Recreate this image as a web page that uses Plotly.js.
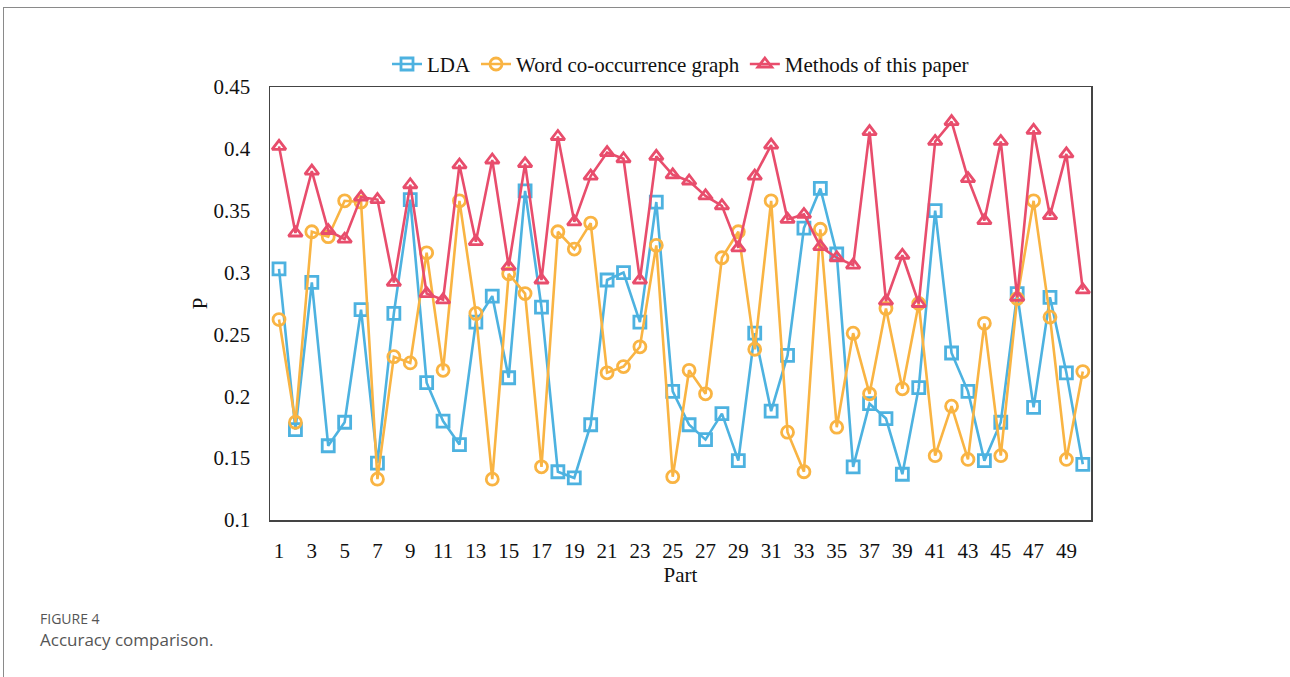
<!DOCTYPE html>
<html>
<head>
<meta charset="utf-8">
<script src="https://cdn.plot.ly/plotly-3.0.1.min.js"></script>
<style>
  html, body { margin: 0; padding: 0; background: #fff; }
  #chart { width: 1290px; height: 677px; }
  #frame { position: absolute; left: 3px; top: 7px; width: 1300px; height: 700px; border: 1.5px solid #8a8a8a; pointer-events: none; }
</style>
</head>
<body>
<div id="frame"></div>
<div id="chart"></div>
<script>
const parts = Array.from({length: 50}, (_, i) => i + 1);

const ldaValues = [0.303,0.173,0.292,0.160,0.179,0.270,0.146,0.267,0.359,0.211,
                   0.180,0.161,0.260,0.281,0.215,0.366,0.272,0.139,0.134,0.177,
                   0.294,0.300,0.260,0.357,0.204,0.177,0.165,0.186,0.148,0.251,
                   0.188,0.233,0.336,0.368,0.315,0.143,0.194,0.182,0.137,0.207,
                   0.350,0.235,0.204,0.148,0.179,0.283,0.191,0.280,0.219,0.145];

const wordGraphValues = [0.262,0.179,0.333,0.329,0.358,0.357,0.133,0.232,0.227,0.316,
                         0.221,0.358,0.267,0.133,0.299,0.283,0.143,0.333,0.319,0.340,
                         0.219,0.224,0.240,0.322,0.135,0.221,0.202,0.312,0.333,0.238,
                         0.358,0.171,0.139,0.335,0.175,0.251,0.202,0.271,0.206,0.275,
                         0.152,0.192,0.149,0.259,0.152,0.279,0.358,0.264,0.149,0.220];

const paperValues = [0.402,0.332,0.382,0.334,0.327,0.361,0.359,0.292,0.371,0.283,
                     0.278,0.387,0.325,0.391,0.305,0.388,0.294,0.410,0.341,0.378,
                     0.397,0.392,0.294,0.394,0.379,0.374,0.362,0.354,0.320,0.378,
                     0.403,0.343,0.347,0.321,0.312,0.306,0.414,0.277,0.314,0.275,
                     0.406,0.422,0.376,0.342,0.406,0.280,0.415,0.346,0.396,0.286];

const seriesNames = ["LDA", "Word co-occurrence graph", "Methods of this paper"];
const xTickVals = [1,3,5,7,9,11,13,15,17,19,21,23,25,27,29,31,33,35,37,39,41,43,45,47,49];
const yTickVals = [0.1,0.15,0.2,0.25,0.3,0.35,0.4,0.45];
const yTickText = ["0.1","0.15","0.2","0.25","0.3","0.35","0.4","0.45"];

const blue = "#4db2e0", orange = "#f9b443", red = "#e84d6c";
function tr(y, name, color, symbol) {
  return {
    x: parts, y: y, name: name, type: "scatter", mode: "lines+markers",
    line: {color: color, width: 2.6},
    marker: {symbol: symbol, size: 12, color: color, line: {color: color, width: 2.8}}
  };
}
const data = [
  tr(ldaValues, seriesNames[0], blue, "square-open"),
  tr(wordGraphValues, seriesNames[1], orange, "circle-open"),
  tr(paperValues, seriesNames[2], red, "triangle-up-open")
];

const serif = "Liberation Serif, Times New Roman, serif";
const layout = {
  width: 1290, height: 677,
  paper_bgcolor: "rgba(0,0,0,0)", plot_bgcolor: "#fff",
  margin: {l: 270, r: 199, t: 87, b: 157},
  font: {family: serif, size: 21, color: "#111"},
  showlegend: true,
  legend: {orientation: "h", x: 0.5, xanchor: "center", y: 1.005, yanchor: "bottom",
           font: {family: serif, size: 21, color: "#111"}, itemwidth: 30, tracegroupgap: 0},
  xaxis: {
    range: [0.45, 50.5], tickvals: xTickVals, ticktext: xTickVals.map(String),
    showgrid: false, zeroline: false, showline: true, mirror: true,
    linecolor: "#444", linewidth: 1.5, ticks: "", ticklabelstandoff: 11,
    tickfont: {family: serif, size: 21, color: "#111"},
    title: {text: "Part", font: {family: serif, size: 21, color: "#111"}, standoff: 2}
  },
  yaxis: {
    range: [0.1, 0.45], tickvals: yTickVals, ticktext: yTickText,
    showgrid: false, zeroline: false, showline: true, mirror: true,
    linecolor: "#444", linewidth: 1.5, ticks: "", ticklabelstandoff: 14,
    tickfont: {family: serif, size: 21, color: "#111"},
    title: {text: "P", font: {family: serif, size: 21, color: "#111"}, standoff: 0}
  },
  annotations: [
    {text: "FIGURE 4", xref: "paper", yref: "paper", x: -0.282, y: -0.2, xanchor: "left", yanchor: "top",
     showarrow: false, font: {family: "Open Sans, Noto Sans, sans-serif", size: 14, color: "#555"}},
    {text: "Accuracy comparison.", xref: "paper", yref: "paper", x: -0.282, y: -0.245, xanchor: "left", yanchor: "top",
     showarrow: false, font: {family: "Open Sans, Noto Sans, sans-serif", size: 17, color: "#555"}}
  ]
};

Plotly.newPlot("chart", data, layout, {displayModeBar: false, staticPlot: true});
</script>
</body>
</html>
